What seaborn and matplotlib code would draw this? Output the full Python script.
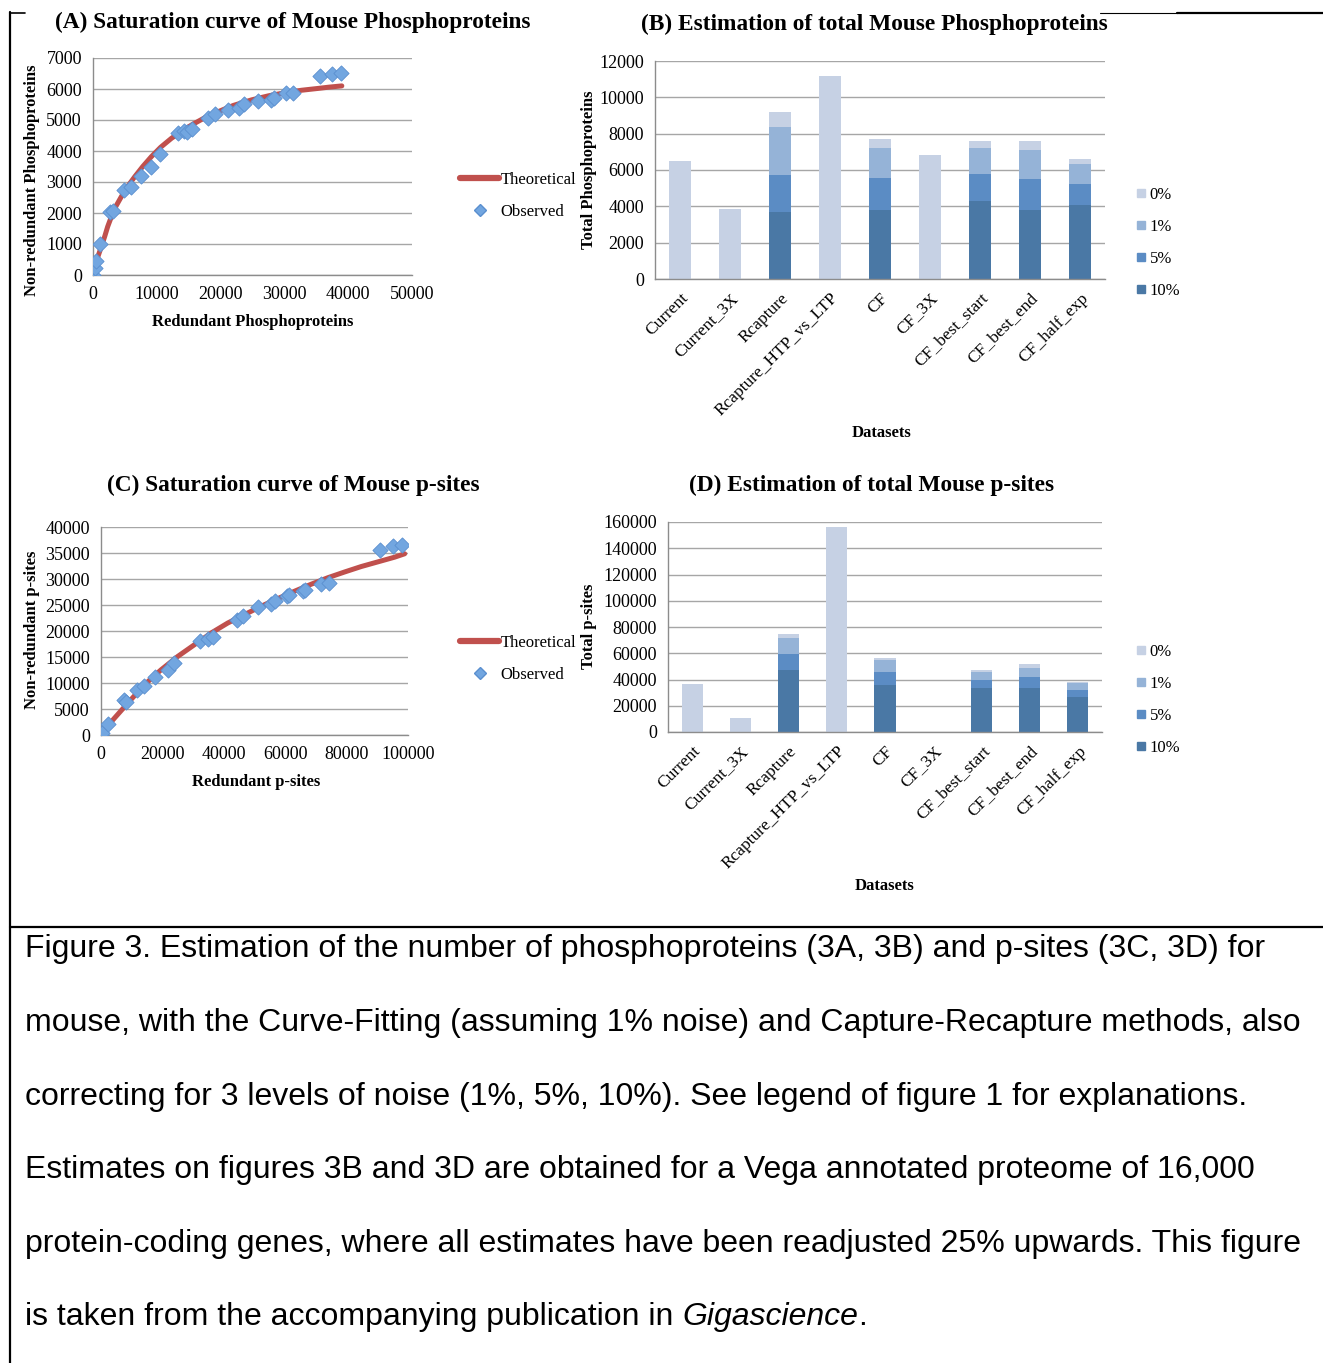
import numpy as np
import matplotlib
matplotlib.use("Agg")
import matplotlib.pyplot as plt
import seaborn as sns
from matplotlib.lines import Line2D

sns.set_style("white")
plt.rcParams['font.family'] = ['Liberation Serif', 'DejaVu Serif']
plt.rcParams['text.color'] = 'black'
plt.rcParams['axes.labelcolor'] = 'black'

# ---- data ----
# (A) phosphoproteins saturation
obs_a_x = [0, 260, 520, 1150, 2600, 3140, 4870, 5920, 7490, 9160, 10470, 13250, 14300, 14660,
           15450, 18060, 19110, 21100, 22880, 23720, 25900, 27900, 28420, 30260, 31410,
           35600, 37430, 38900]
obs_a_y = [0, 215, 460, 1000, 2020, 2075, 2740, 2850, 3200, 3500, 3890, 4570, 4660, 4620,
           4700, 5050, 5200, 5320, 5400, 5500, 5620, 5660, 5700, 5860, 5860,
           6420, 6490, 6530]
theo_a_x = [700, 1200, 1830, 2300, 2880, 3600, 4450, 5400, 6540, 7800, 9160, 10600, 12300,
            14000, 15450, 17400, 19630, 22000, 24870, 27500, 30100, 32700, 35340, 37000, 39000]
theo_a_y = [550, 850, 1240, 1560, 1880, 2220, 2530, 2850, 3170, 3500, 3820, 4120, 4410,
            4650, 4840, 5060, 5270, 5470, 5650, 5780, 5880, 5960, 6020, 6060, 6100]

# (C) p-sites saturation
obs_c_x = [0, 220, 2170, 7500, 8200, 11740, 13910, 17610, 21740, 23910, 32390, 34780, 36630,
           44350, 46200, 51300, 55430, 56520, 60650, 61400, 65760, 66520, 71740, 74240,
           90760, 95110, 98150]
obs_c_y = [0, 320, 2120, 6700, 6400, 8680, 9450, 11120, 12540, 13830, 18130, 18520, 18840,
           22190, 22830, 24570, 25210, 25850, 26690, 27000, 27650, 27970, 29130, 29200,
           35560, 36330, 36460]
theo_c_x = [500, 4350, 8700, 14130, 19570, 25000, 30430, 35870, 41300, 46740, 52170, 57610,
            63040, 68480, 73910, 79350, 84780, 90220, 95650, 98910]
theo_c_y = [600, 3220, 6110, 9650, 12540, 15110, 17360, 19610, 21540, 23150, 24760, 26240,
            27650, 29000, 30250, 31350, 32400, 33300, 34200, 34850]

# (B) / (D) estimates per dataset and noise level
datasets = ['Current', 'Current_3X', 'Rcapture', 'Rcapture_HTP_vs_LTP', 'CF', 'CF_3X',
            'CF_best_start', 'CF_best_end', 'CF_half_exp']
noise_levels = ['0%', '1%', '5%', '10%']
prot_0 = [6500, 3850, 9200, 11200, 7700, 6800, 7580, 7580, 6620]
prot_1 = [0, 0, 8350, 0, 7200, 0, 7200, 7120, 6350]
prot_5 = [0, 0, 5700, 0, 5550, 0, 5780, 5480, 5250]
prot_10 = [0, 0, 3700, 0, 3800, 0, 4300, 3800, 4080]
sites_0 = [36500, 10500, 75000, 156000, 56500, 0, 47500, 51500, 38000]
sites_1 = [0, 0, 72000, 0, 54500, 0, 46000, 49000, 37000]
sites_5 = [0, 0, 59500, 0, 46000, 0, 40000, 42000, 32000]
sites_10 = [0, 0, 47500, 0, 36000, 0, 33500, 33500, 27000]

RED = '#c0504d'
DOT = '#72a6e0'
DOT_EDGE = '#5a8fcf'
BAR_COLORS = ['#c6d1e4', '#95b3d7', '#5b8cc4', '#4a78a5']
GRID = '#a6a6a6'

W, H = 1323, 1363
fig = plt.figure(figsize=(W / 100, H / 100), dpi=100)


def px_axes(left, top, right, bottom):
    return fig.add_axes([left / W, 1 - bottom / H, (right - left) / W, (bottom - top) / H])


def ftext(x, y, s, **kw):
    return fig.text(x / W, 1 - y / H, s, ha='center', va='center', **kw)


def style(ax, ymax, ystep):
    ax.set_ylim(0, ymax)
    ax.set_yticks(np.arange(0, ymax + 1, ystep))
    ax.grid(axis='y', color=GRID, lw=1)
    ax.grid(axis='x', visible=False)
    ax.set_axisbelow(True)
    for s in ['top', 'right']:
        ax.spines[s].set_visible(False)
    for s in ['left', 'bottom']:
        ax.spines[s].set_color('#8c8c8c')
        ax.spines[s].set_linewidth(1)
    ax.tick_params(colors='#8c8c8c', labelcolor='black', length=5, width=1,
                   labelsize=13, direction='out', pad=3)
    ax.set_xlabel('')
    ax.set_ylabel('')


def saturation(ax, ox, oy, tx, ty, xmax, xstep, ymax, ystep):
    sns.lineplot(x=tx, y=ty, ax=ax, color=RED, lw=3.6, sort=True, zorder=2)
    sns.scatterplot(x=ox, y=oy, ax=ax, marker='D', s=60, color=DOT, edgecolor=DOT_EDGE,
                    linewidth=0.6, zorder=3)
    style(ax, ymax, ystep)
    ax.set_xlim(0, xmax)
    ax.set_xticks(np.arange(0, xmax + 1, xstep))


def sat_legend(y):
    handles = [Line2D([], [], color=RED, lw=4.5),
               Line2D([], [], marker='D', ls='', color=DOT, markeredgecolor=DOT_EDGE, ms=6)]
    fig.legend(handles, ['Theoretical', 'Observed'], loc='center left',
               bbox_to_anchor=(452 / W, 1 - y / H), frameon=False, fontsize=12,
               handlelength=2.3, handletextpad=0.1, labelspacing=0.95, borderpad=0)


def estimates(ax, series, ymax, ystep):
    for vals, col in zip(series, BAR_COLORS):
        sns.barplot(x=datasets, y=vals, order=datasets, color=col, width=0.44,
                    saturation=1, linewidth=0, ax=ax, zorder=2)
    style(ax, ymax, ystep)
    ax.set_xlim(-0.5, len(datasets) - 0.5)
    ax.set_xticks(range(len(datasets)))
    ax.set_xticklabels(datasets, rotation=45, ha='right', rotation_mode='anchor', fontsize=12.5)
    ax.set_xticks(np.arange(-0.5, len(datasets), 1), minor=True)
    ax.tick_params(axis='x', which='major', length=0, pad=8)
    ax.tick_params(axis='x', which='minor', length=5, color='#8c8c8c')


def bar_legend(y):
    handles = [Line2D([], [], marker='s', ls='', color=c, ms=6) for c in BAR_COLORS]
    fig.legend(handles, noise_levels, loc='center left', bbox_to_anchor=(1127 / W, 1 - y / H),
               frameon=False, fontsize=12, handlelength=0.7, handletextpad=0.15,
               labelspacing=0.95, borderpad=0)


# (A)
ax_a = px_axes(93, 58, 412, 275)
saturation(ax_a, obs_a_x, obs_a_y, theo_a_x, theo_a_y, 50000, 10000, 7000, 1000)
ftext(293, 22, '(A) Saturation curve of Mouse Phosphoproteins', fontsize=16.8, fontweight='bold')
ftext(32, 180, 'Non-redundant Phosphoproteins', rotation=90, fontsize=12, fontweight='bold')
ftext(253, 322, 'Redundant Phosphoproteins', fontsize=12, fontweight='bold')
sat_legend(196)

# (B)
ax_b = px_axes(655, 61, 1105, 279)
estimates(ax_b, [prot_0, prot_1, prot_5, prot_10], 12000, 2000)
ftext(874, 24, '(B) Estimation of total Mouse Phosphoproteins', fontsize=16.8, fontweight='bold')
ftext(589, 170, 'Total Phosphoproteins', rotation=90, fontsize=12, fontweight='bold')
ftext(882, 433, 'Datasets', fontsize=12, fontweight='bold')
bar_legend(243)

# (C)
ax_c = px_axes(101, 527, 408, 735)
saturation(ax_c, obs_c_x, obs_c_y, theo_c_x, theo_c_y, 100000, 20000, 40000, 5000)
ftext(293, 485, '(C) Saturation curve of Mouse p-sites', fontsize=16.8, fontweight='bold')
ftext(32, 630, 'Non-redundant p-sites', rotation=90, fontsize=12, fontweight='bold')
ftext(256, 782, 'Redundant p-sites', fontsize=12, fontweight='bold')
sat_legend(659)

# (D)
ax_d = px_axes(668, 522, 1102, 732)
estimates(ax_d, [sites_0, sites_1, sites_5, sites_10], 160000, 20000)
ftext(872, 485, '(D) Estimation of total Mouse p-sites', fontsize=16.8, fontweight='bold')
ftext(589, 626, 'Total p-sites', rotation=90, fontsize=12, fontweight='bold')
ftext(885, 886, 'Datasets', fontsize=12, fontweight='bold')
bar_legend(700)

# table borders
def fline(x0, y0, x1, y1, lw=1.5):
    fig.add_artist(Line2D([x0 / W, x1 / W], [1 - y0 / H, 1 - y1 / H], color='black', lw=lw))

fline(10, 12, 10, H, lw=1.6)
fline(10, 927, W, 927, lw=1.6)
fline(10, 13, 25, 13, lw=1.2)
fline(1100, 13, 1177, 13, lw=0.8)
fline(1177, 13, W, 13, lw=1.6)

# caption
cap_kw = dict(fontsize=23.0, family=['Liberation Sans', 'DejaVu Sans'], color='black',
              ha='left', va='center')
caption = [
    'Figure 3. Estimation of the number of phosphoproteins (3A, 3B) and p-sites (3C, 3D) for',
    'mouse, with the Curve-Fitting (assuming 1% noise) and Capture-Recapture methods, also',
    'correcting for 3 levels of noise (1%, 5%, 10%). See legend of figure 1 for explanations.',
    'Estimates on figures 3B and 3D are obtained for a Vega annotated proteome of 16,000',
    'protein-coding genes, where all estimates have been readjusted 25% upwards. This figure',
]
cap_y = [949, 1023, 1097, 1170, 1244]
for line, y in zip(caption, cap_y):
    fig.text(25 / W, 1 - y / H, line, **cap_kw)

last = fig.text(25 / W, 1 - 1317 / H, 'is taken from the accompanying publication in ', **cap_kw)
renderer = fig.canvas.get_renderer()
bb = last.get_window_extent(renderer)
ital = fig.text(bb.x1 / W, 1 - 1317 / H, 'Gigascience', style='italic', **cap_kw)
bb2 = ital.get_window_extent(renderer)
fig.text(bb2.x1 / W, 1 - 1317 / H, '.', **cap_kw)

fig.savefig('out.png', dpi=100)
